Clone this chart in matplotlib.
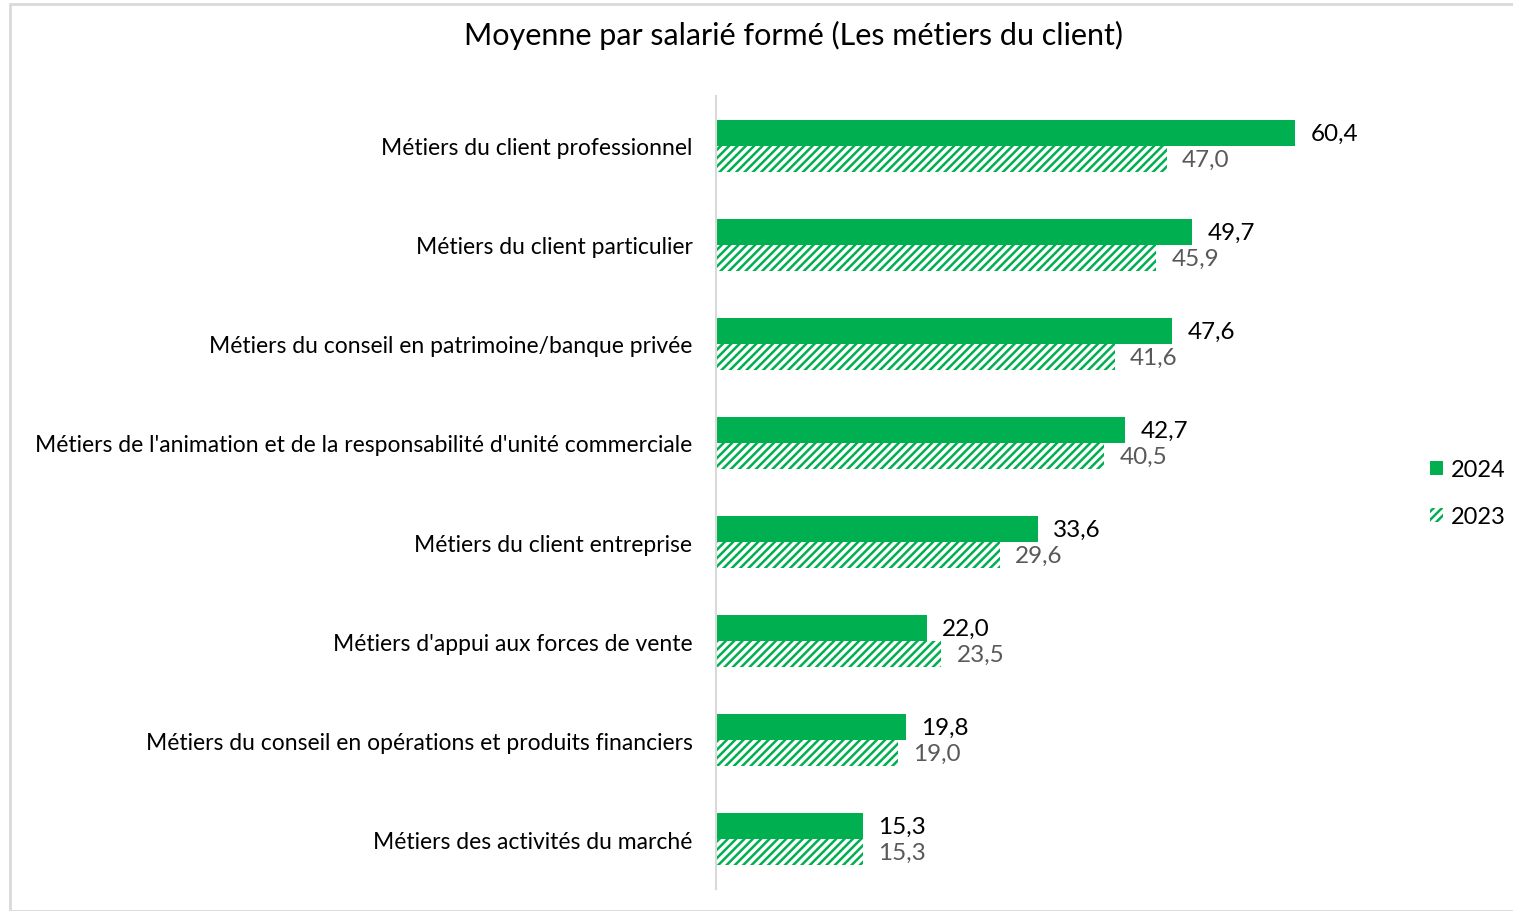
import matplotlib
matplotlib.use("Agg")
import matplotlib.pyplot as plt
from matplotlib.patches import Patch, Rectangle

plt.rcParams['font.family'] = ['Lato', 'DejaVu Sans']
plt.rcParams['hatch.linewidth'] = 1.8

categories = [
    "Métiers du client professionnel",
    "Métiers du client particulier",
    "Métiers du conseil en patrimoine/banque privée",
    "Métiers de l'animation et de la responsabilité d'unité commerciale",
    "Métiers du client entreprise",
    "Métiers d'appui aux forces de vente",
    "Métiers du conseil en opérations et produits financiers",
    "Métiers des activités du marché",
]
values_2024 = [60.4, 49.7, 47.6, 42.7, 33.6, 22.0, 19.8, 15.3]
values_2023 = [47.0, 45.9, 41.6, 40.5, 29.6, 23.5, 19.0, 15.3]

green = "#00b050"
W, H = 1513, 912
fig = plt.figure(figsize=(W / 100, H / 100), dpi=100)
ax = fig.add_axes([716 / W, 1 - 890 / H, (1387 - 716) / W, (890 - 97) / H])

# light frame around the chart
fig.patches.append(Rectangle((10 / W, 0), 1.2, 1 - 5 / H, transform=fig.transFigure,
                             fill=False, edgecolor="#d9d9d9", linewidth=2))

h = 0.263
pos = list(range(len(categories)))
ax.barh([p - h / 2 for p in pos], values_2024, height=h, color=green, linewidth=0, label="2024")
ax.barh([p + h / 2 for p in pos], values_2023, height=h, color="white", edgecolor=green,
        hatch="////", linewidth=0, label="2023")

for p, v in zip(pos, values_2024):
    ax.text(v + 1.6, p - h / 2, f"{v:.1f}".replace(".", ","), va="center", ha="left",
            fontsize=17.5, color="black")
for p, v in zip(pos, values_2023):
    ax.text(v + 1.6, p + h / 2, f"{v:.1f}".replace(".", ","), va="center", ha="left",
            fontsize=17.5, color="#595959")

ax.set_xlim(0, 70)
ax.set_ylim(len(categories) - 0.495, -0.505)
ax.set_yticks(pos)
ax.set_yticklabels(categories, fontsize=16.5)
ax.tick_params(axis="y", length=0, pad=17)
ax.set_xticks([])
for s in ["top", "right", "bottom"]:
    ax.spines[s].set_visible(False)
ax.spines["left"].set_color("#d9d9d9")
ax.spines["left"].set_linewidth(1.5)

fig.text(794 / W, 1 - 35 / H, "Moyenne par salarié formé (Les métiers du client)",
         ha="center", va="center", fontsize=22)

handles = [Patch(facecolor=green, linewidth=0, label="2024"),
           Patch(facecolor="white", edgecolor=green, hatch="////", linewidth=0, label="2023")]
fig.legend(handles=handles, loc="center left", bbox_to_anchor=(1430 / W, 1 - 494 / H),
           frameon=False, fontsize=17, handlelength=0.55, handleheight=0.55,
           handletextpad=0.35, labelspacing=1.1, borderpad=0, borderaxespad=0)

fig.savefig("out.png", dpi=100)
